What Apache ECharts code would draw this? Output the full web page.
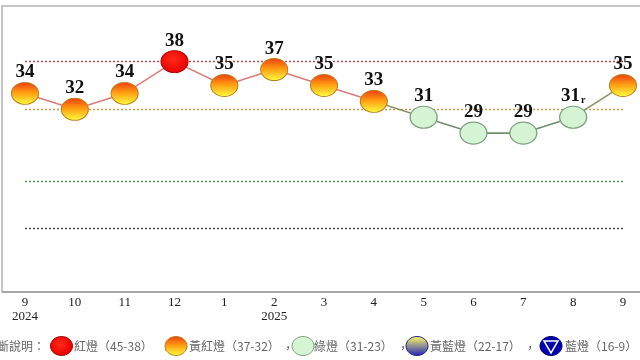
<!DOCTYPE html>
<html><head><meta charset="utf-8">
<script src="https://cdn.jsdelivr.net/npm/echarts@6/dist/echarts.min.js"></script>
<style>html,body{margin:0;padding:0;background:#fff}#c{width:640px;height:360px}</style>
</head><body><div id="c"></div>
<script>
// ---- data ----
const months = ['9','10','11','12','1','2','3','4','5','6','7','8','9'];
const years  = ['2024','','','','','2025','','','','','','',''];
const scores = [34, 32, 34, 38, 35, 37, 35, 33, 31, 29, 29, 31, 35];
const revised = [false,false,false,false,false,false,false,false,false,false,false,true,false];
const thresholds = [38, 32, 23, 17];
const legendNames = ['紅燈（45-38）','黃紅燈（37-32）','綠燈（31-23）','黃藍燈（22-17）','藍燈（16-9）'];
const legendTitle = '斷說明：';

// ---- styles ----
const G = echarts.graphic;
function lampStyle(v){
  if (v >= 38) return {color:new G.RadialGradient(0.45,0.4,0.6,[{offset:0,color:'#ff2a1a'},{offset:1,color:'#e80000'}]), borderColor:'#b00000', borderWidth:1};
  if (v >= 32) return {color:new G.LinearGradient(0,0,0,1,[{offset:0,color:'#ee3a10'},{offset:0.45,color:'#ff9a10'},{offset:1,color:'#ffff40'}]), borderColor:'#c08020', borderWidth:1};
  if (v >= 23) return {color:'#d4f4d4', borderColor:'#80a080', borderWidth:1.2};
  if (v >= 17) return {color:new G.LinearGradient(0,0,0,1,[{offset:0,color:'#ffff60'},{offset:1,color:'#2020c0'}]), borderColor:'#202080', borderWidth:1};
  return {color:'#0000b0', borderColor:'#000060', borderWidth:1};
}
const pink='#dc7c7c', olive='#8a9868', green='#6f8f6f';
function segColor(a,b){
  const ga=a<32&&a>=23, gb=b<32&&b>=23;
  if (ga&&gb) return green;
  if (ga||gb) return olive;
  return pink;
}
const n = scores.length;
const stops = [];
for (let i=0;i<n-1;i++){
  const c = segColor(scores[i],scores[i+1]);
  stops.push({offset:i/(n-1),color:c},{offset:(i+1)/(n-1),color:c});
}
const lineGrad = new G.LinearGradient(0,0,1,0,stops);

const seriesData = scores.map((v,i)=>({value:v,itemStyle:lampStyle(v)}));
const lineColors = ['#b44c4c','#c0a048','#4f9c4f','#45456a'];

// legend graphics
const iconX = [61.5,176,303,417,551];
const textX = [74,189,314,430,565];
const commaX = [163,285,400,527];
const LY = 346;
const legendKinds = [38,34,28,20,12];
const gfx = [
  {type:'rect', shape:{x:2,y:6,width:700,height:286}, style:{fill:'none',stroke:'#b4b4b4',lineWidth:1.5}, z:0, silent:true},
  {type:'line', shape:{x1:2,y1:292,x2:640,y2:292}, style:{stroke:'#a8a8a8',lineWidth:2}, silent:true},
  {type:'text', x:-3, y:LY, style:{text:legendTitle, fontFamily:'Noto Sans CJK TC', fontSize:12, fill:'#666', verticalAlign:'middle'}}
];
legendNames.forEach((nm,i)=>{
  const st = lampStyle(legendKinds[i]);
  gfx.push({type:'ellipse', shape:{cx:iconX[i],cy:LY,rx:11,ry:9.5}, style:{fill:st.color, stroke:st.borderColor, lineWidth:1}});
  if (i===4){
    gfx.push({type:'polygon', shape:{points:[[iconX[i]-7,LY-5],[iconX[i]+7,LY-5],[iconX[i],LY+7]]}, style:{fill:'none',stroke:'#fff',lineWidth:1.5}});
  }
  gfx.push({type:'text', x:textX[i], y:LY, style:{text:nm, fontFamily:'Noto Sans CJK TC', fontSize:12, fill:'#666', verticalAlign:'middle'}});
  if (i<4) gfx.push({type:'text', x:commaX[i]-3, y:LY+2, style:{text:'，', fontFamily:'Noto Sans CJK TC', fontSize:12, fill:'#666', align:'left', verticalAlign:'middle'}});
});

const chart = echarts.init(document.getElementById('c'), null, {renderer:'canvas'});
chart.setOption({
  animation:false,
  backgroundColor:'#fff',
  grid:{left:25,right:17,top:6,bottom:68},
  xAxis:{type:'category', data:months, boundaryGap:false,
    axisLine:{show:false}, axisTick:{show:false}, splitLine:{show:false},
    axisLabel:{margin:4, interval:0, fontFamily:'Liberation Serif', fontSize:13, color:'#222', lineHeight:14,
      formatter:(v,i)=> years[i] ? v+'\n'+years[i] : v}},
  yAxis:{type:'value', min:9, max:45, show:false, splitLine:{show:false}},
  graphic:gfx,
  series:[{
    type:'line', data:seriesData, symbol:'circle', symbolSize:[27,22],
    lineStyle:{color:lineGrad,width:1.6}, z:5,
    label:{show:true, position:'top', distance:0,
      formatter:p=> revised[p.dataIndex] ? '{v|'+p.value+'}{r|r}' : '{v|'+p.value+'}',
      rich:{v:{fontFamily:'Liberation Serif',fontWeight:'bold',fontSize:19,color:'#111'},
            r:{fontFamily:'Liberation Serif',fontWeight:'bold',fontSize:10,color:'#111',verticalAlign:'bottom',padding:[6,0,0,1]}}},
    markLine:{silent:true, symbol:'none', label:{show:false}, z:1,
      lineStyle:{type:[2,2], width:1.4, opacity:1},
      data: thresholds.map((t,i)=>({yAxis:t, lineStyle:{color:lineColors[i], type:[2,2], width:1.4}}))}
  }]
});
</script></body></html>
